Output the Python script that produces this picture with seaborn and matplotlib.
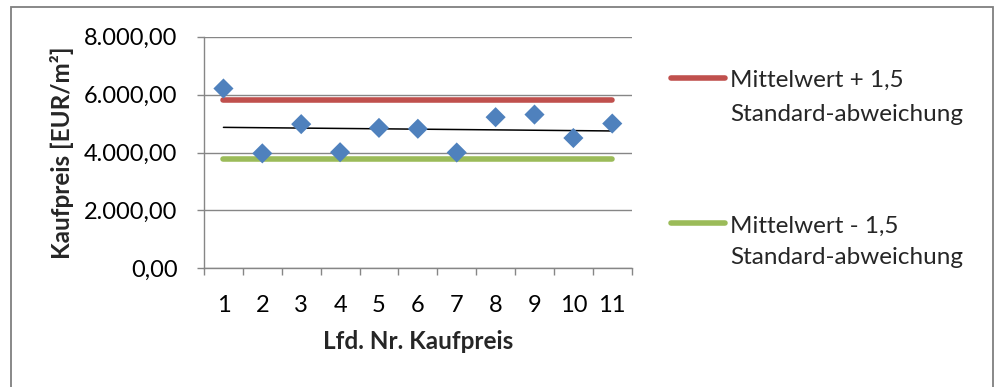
import matplotlib
matplotlib.use("Agg")
import matplotlib.pyplot as plt
import seaborn as sns
import pandas as pd
import numpy as np
from matplotlib.lines import Line2D
from matplotlib.patches import Rectangle
from matplotlib.ticker import FuncFormatter, FixedLocator

# Kaufpreise je laufender Nummer (EUR/m²)
lfd_nr = [1, 2, 3, 4, 5, 6, 7, 8, 9, 10, 11]
kaufpreis = [6210, 3970, 4980, 4010, 4850, 4820, 4000, 5220, 5310, 4500, 5000]
obere_grenze = 5805   # Mittelwert + 1,5 Standardabweichung
untere_grenze = 3780  # Mittelwert - 1,5 Standardabweichung
y_ticks = [0, 2000, 4000, 6000, 8000]
legend_labels = [("Mittelwert + 1,5", "Standard-abweichung"),
                 ("Mittelwert - 1,5", "Standard-abweichung")]

sns.set_theme(style="white")
plt.rcParams["font.family"] = ["Lato", "DejaVu Sans"]

W, H = 997, 387
fig = plt.figure(figsize=(W / 100, H / 100), dpi=100)
ax = fig.add_axes([204 / W, 1 - 268.3 / H, (631.7 - 204) / W, (268.3 - 36.7) / H])

df = pd.DataFrame({"nr": lfd_nr, "preis": kaufpreis})
grenzen = pd.DataFrame({"nr": [lfd_nr[0], lfd_nr[-1]] * 2,
                        "wert": [obere_grenze] * 2 + [untere_grenze] * 2,
                        "linie": ["oben"] * 2 + ["unten"] * 2})

red, green, blue = "#C0504D", "#9BBB59", "#4F81BD"
grid_col = "#868686"

sns.lineplot(data=grenzen[grenzen.linie == "oben"], x="nr", y="wert", color=red,
             lw=4, solid_capstyle="round", ax=ax, zorder=3)
sns.lineplot(data=grenzen[grenzen.linie == "unten"], x="nr", y="wert", color=green,
             lw=4, solid_capstyle="round", ax=ax, zorder=3)
sns.regplot(data=df, x="nr", y="preis", scatter=False, ci=None, truncate=True,
            line_kws=dict(color="black", lw=1.1, zorder=4), ax=ax)
sns.scatterplot(data=df, x="nr", y="preis", marker="D", s=105, color=blue,
                edgecolor="none", linewidth=0, ax=ax, zorder=5)

ax.set_xlim(0.5, 11.5)
ax.set_ylim(0, 8000)
ax.set_yticks(y_ticks)
ax.yaxis.set_major_formatter(FuncFormatter(
    lambda v, p: f"{v:,.2f}".replace(",", "X").replace(".", ",").replace("X", ".")))
ax.set_xticks(lfd_nr)
ax.set_xticklabels([str(n) for n in lfd_nr])
ax.xaxis.set_minor_locator(FixedLocator(np.arange(0.5, 12, 1)))

ax.grid(axis="y", color=grid_col, lw=1.0)
ax.grid(axis="x", visible=False)
for s in ["top", "right"]:
    ax.spines[s].set_visible(False)
for s in ["left", "bottom"]:
    ax.spines[s].set_color(grid_col)
    ax.spines[s].set_linewidth(1.0)

ax.tick_params(axis="y", which="major", left=True, length=5, width=1, color=grid_col,
               pad=14, labelsize=17, labelcolor="black")
ax.tick_params(axis="x", which="major", bottom=False, length=0, pad=19,
               labelsize=17, labelcolor="black")
ax.tick_params(axis="x", which="minor", bottom=True, length=5, width=1, color=grid_col)

ax.set_xlabel("Lfd. Nr. Kaufpreis", fontsize=17.5, fontweight="bold", labelpad=10)
ax.set_ylabel("Kaufpreis [EUR/m²]", fontsize=17.5, fontweight="bold", labelpad=7)
ax.set_facecolor("white")

# Legende rechts neben dem Diagramm
handle_y = [78, 223]
baselines = [(87, 121), (233, 264)]
for col, hy, (b1, b2), (l1, l2) in zip([red, green], handle_y, baselines, legend_labels):
    y = 1 - hy / H
    fig.add_artist(Line2D([671 / W, 725 / W], [y, y], color=col, lw=4,
                          solid_capstyle="round", transform=fig.transFigure))
    fig.text(730 / W, 1 - b1 / H, l1, fontsize=17.5, va="baseline", ha="left")
    fig.text(730 / W, 1 - b2 / H, l2, fontsize=17.5, va="baseline", ha="left")

# Rahmen des Diagrammbereichs
fig.add_artist(Rectangle((11 / W, -0.05), (993 - 11) / W, 1.05 - 7 / H,
                         transform=fig.transFigure, fill=False,
                         edgecolor="#7F7F7F", lw=1.3))

fig.savefig("out.png", dpi=100, facecolor="white")
